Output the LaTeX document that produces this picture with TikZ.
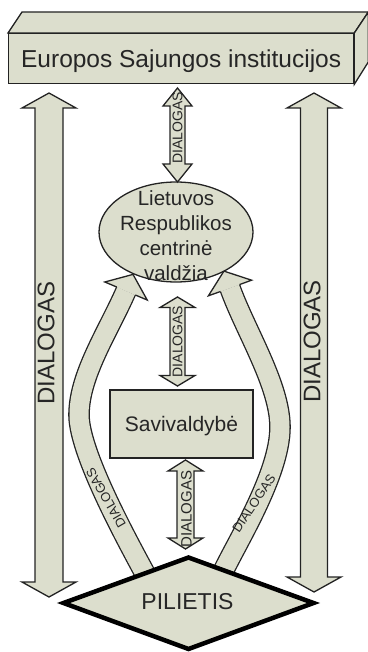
\documentclass[tikz,border=0pt]{standalone}
\usepackage{fontspec}
\setmainfont{Liberation Sans}
\usetikzlibrary{calc,shapes.geometric}
\definecolor{boxfill}{RGB}{220,222,205}
\definecolor{edge}{RGB}{35,35,35}
\definecolor{txt}{RGB}{38,38,38}
\newcommand{\fsz}[2]{\fontsize{#1}{#2}\selectfont}
% vertical double block arrow: #1 top tip, #2 bottom tip, #3 shaft half, #4 head half, #5 head length
\newcommand{\dblarrow}[5]{%
  \draw[shapeline] let \p1=(#1), \p2=(#2) in
   (\x1,\y1) -- (\x1+#4pt,\y1-#5pt) -- (\x1+#3pt,\y1-#5pt) -- (\x1+#3pt,\y2+#5pt)
   -- (\x1+#4pt,\y2+#5pt) -- (\x1,\y2) -- (\x1-#4pt,\y2+#5pt) -- (\x1-#3pt,\y2+#5pt)
   -- (\x1-#3pt,\y1-#5pt) -- (\x1-#4pt,\y1-#5pt) -- cycle;}
\begin{document}
\begin{tikzpicture}[x=1pt,y=-1pt,
  shapeline/.style={draw=edge,line width=1.3pt,fill=boxfill,line join=miter},
  lbl/.style={text=txt,inner sep=0pt},
  bigdlg/.style={lbl,font=\fsz{24}{28},rotate=90},
  smalldlg/.style={lbl,font=\fsz{14}{16},rotate=90},
  curvedlg/.style={lbl,font=\fsz{13}{15}},
  curveshaft/.style={draw=edge,line width=1.3pt,double=boxfill,double distance=19pt},
  headline/.style={draw=edge,line width=1.3pt,line join=miter}
]
\useasboundingbox (0,0) rectangle (367,652);

% ---- EU box (3D) ----
\node[shapeline,minimum width=345pt,minimum height=50pt,inner sep=0pt,anchor=north west,
      text depth=0pt,text=txt,font=\fsz{24.5}{28}] (eu) at (8,33) {Europos Sajungos institucijos};
\draw[shapeline] (eu.north west) -- ++(14,-21) -- ($(eu.north east)+(14,-21)$) -- (eu.north east) -- cycle;
\draw[shapeline] (eu.north east) -- ++(14,-21) -- ++(0,50) -- (eu.south east) -- cycle;

% ---- big side arrows ----
\coordinate (Lt) at (49,93);  \coordinate (Lb) at (49,597);
\coordinate (Rt) at (314,93); \coordinate (Rb) at (314,592);
\dblarrow{Lt}{Lb}{14}{27}{15}
\dblarrow{Rt}{Rb}{13.5}{27}{15}
\node[bigdlg] (dl) at (46,343) {DIALOGAS};
\node[bigdlg] (dr) at (312,341.5) {DIALOGAS};

% ---- curved arrows from citizen to central government ----
\coordinate (la0) at (149,581);
\coordinate (lam) at (126,291);
\draw[curveshaft] (la0) .. controls (133,551) and (79,455) .. (79,415)
                        .. controls (79,375) and (108,332) .. (lam);
\coordinate (le1) at (135.3,295.0); \coordinate (le2) at (116.7,287.0);
\coordinate (lb1) at (147.2,300.0); \coordinate (lb2) at (104.8,282.0);
\coordinate (ltip) at (133,274.4);
\fill[boxfill] (lb1) -- (ltip) -- (lb2) -- cycle;
\draw[headline] (le1) -- (lb1) -- (ltip) -- (lb2) -- (le2);

\coordinate (ra0) at (221,576);
\coordinate (ram) at (230,288);
\draw[curveshaft] (ra0) .. controls (235,545) and (280,475) .. (280,427)
                        .. controls (280,385) and (245,330) .. (ram);
\coordinate (re1) at (239.5,284.6); \coordinate (re2) at (220.5,291.5);
\coordinate (rb1) at (251.6,280.2); \coordinate (rb2) at (208.4,295.8);
\coordinate (rtip) at (223.9,271.1);
\fill[boxfill] (rb1) -- (rtip) -- (rb2) -- cycle;
\draw[headline] (re1) -- (rb1) -- (rtip) -- (rb2) -- (re2);

\node[curvedlg,rotate=120] (cl) at (106,498) {DIALOGAS};
\node[curvedlg,rotate=56] (cr) at (254,503) {DIALOGAS};

% ---- central government ellipse ----
\node[shapeline,ellipse,minimum width=154pt,minimum height=100pt,inner sep=0pt] (lt) at (176,232) {};
\node[lbl,align=center,font=\fsz{20.5}{25}] (lttxt) at (176,235.5) {Lietuvos\\Respublikos\\centrinė\\valdžia};

% ---- small double arrows ----
\coordinate (At) at (177.5,88);  \coordinate (Ab) at (177.5,182);
\dblarrow{At}{Ab}{7.5}{14.5}{18}
\node[smalldlg] (d1) at (177.5,128) {DIALOGAS};

\coordinate (Bt) at (177.5,297); \coordinate (Bb) at (177.5,386);
\dblarrow{Bt}{Bb}{7.5}{17.5}{10.5}
\node[smalldlg] (d2) at (177.5,341.5) {DIALOGAS};

\coordinate (Ct) at (185.5,460); \coordinate (Cb) at (185.5,549);
\dblarrow{Ct}{Cb}{8.5}{17.5}{11}
\node[smalldlg,font=\fsz{15}{17}] (d3) at (186.5,509) {DIALOGAS};

% ---- municipality ----
\node[shapeline,minimum width=143pt,minimum height=68pt,inner sep=0pt,text depth=0pt,
      text=txt,font=\fsz{21}{24}] (sav) at (181.5,424) {Savivaldybė};

% ---- citizen diamond ----
\coordinate (pw) at (63.5,603); \coordinate (pn) at (188.5,557.5);
\coordinate (pe) at (313.5,603); \coordinate (ps) at (188.5,649);
\draw[line width=4.5pt,draw=black,fill=boxfill,line join=miter] (pw) -- (pn) -- (pe) -- (ps) -- cycle;
\node[lbl,font=\fsz{23}{26}] (pil) at (187.5,601.7) {PILIETIS};
\end{tikzpicture}
\end{document}
